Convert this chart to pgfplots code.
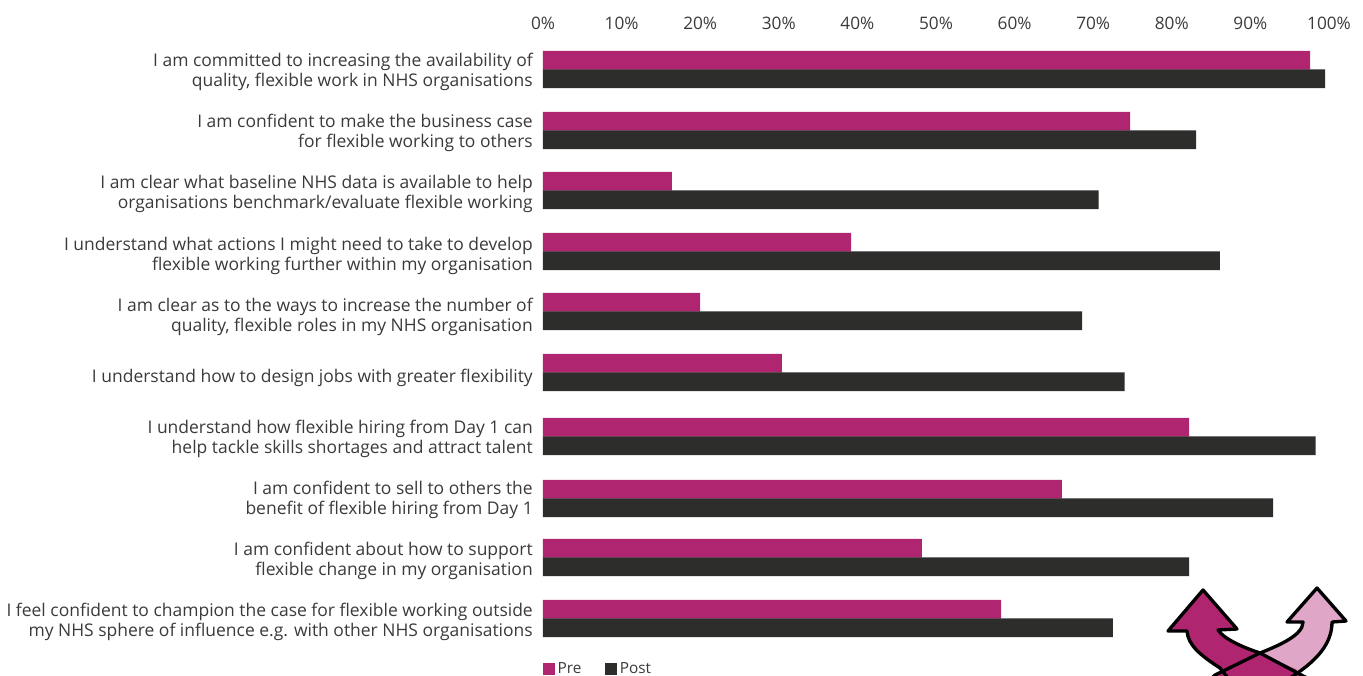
\documentclass[border=0pt]{standalone}
\usepackage{pgfplots}
\pgfplotsset{compat=1.18}
\usepackage{fontspec}
\setmainfont{Open Sans}
\definecolor{preC}{HTML}{AF2570}
\definecolor{postC}{HTML}{2D2D2C}
\definecolor{lightC}{HTML}{E0A6C8}
\definecolor{txtC}{HTML}{3A3A3A}
\begin{document}
\begin{tikzpicture}
\path[use as bounding box] (0pt,0pt) rectangle (1022.25pt,-506.25pt);
\begin{axis}[
  at={(407.25pt,-483.75pt)}, anchor=south west,
  scale only axis, width=589.5pt, height=450pt,
  xmin=0, xmax=100, ymin=45, ymax=645, y dir=reverse,
  axis line style={draw=none}, major tick length=0pt,
  xbar, bar width=18.9,
  xtick={0,10,...,100},
  xticklabels={0\%,10\%,20\%,30\%,40\%,50\%,60\%,70\%,80\%,90\%,100\%},
  xticklabel pos=upper,
  xticklabel style={font=\fontsize{12.9pt}{15pt}\selectfont, text=txtC, inner sep=0pt, yshift=11pt},
  ytick={72,133,194,255.5,316.5,378,439,500,561,622},
  yticklabels={
    {I am committed to increasing the availability of\\quality, flexible work in NHS organisations},
    {I am confident to make the business case\\for flexible working to others},
    {I am clear what baseline NHS data is available to help\\organisations benchmark/evaluate flexible working},
    {I understand what actions I might need to take to develop\\flexible working further within my organisation},
    {I am clear as to the ways to increase the number of\\quality, flexible roles in my NHS organisation},
    {I understand how to design jobs with greater flexibility},
    {I understand how flexible hiring from Day 1 can\\help tackle skills shortages and attract talent},
    {I am confident to sell to others the\\benefit of flexible hiring from Day 1},
    {I am confident about how to support\\flexible change in my organisation},
    {I feel confident to champion the case for flexible working outside\\my NHS sphere of influence e.g. with other NHS organisations}},
  yticklabel style={font=\fontsize{13.1pt}{15pt}\selectfont, text=txtC, align=right, inner sep=0pt, xshift=-7.5pt},
  clip=false,
  legend style={at={(0,-0.0245)}, anchor=north west, draw=none, fill=none, inner sep=0pt, outer sep=0pt,
    legend columns=2, font=\fontsize{11.5pt}{13pt}\selectfont, text=txtC,
    /tikz/every even column/.style={column sep=15.75pt}},
  legend image code/.code={\fill[#1] (0pt,-4.5pt) rectangle (9pt,4.5pt);},
]
\addplot[fill=preC, draw=none, bar shift=-9.25] coordinates {
  (97.6,69.5) (74.7,130.5) (16.4,190.5) (39.2,251.5) (20,311.5)
  (30.4,372.5) (82.2,436.5) (66,498.5) (48.2,557.5) (58.3,618.5)};
\addlegendentry{Pre}
\addplot[fill=postC, draw=none, bar shift=9.25] coordinates {
  (99.5,69.5) (83.1,130.5) (70.7,190.5) (86.1,251.5) (68.6,311.5)
  (74,372.5) (98.3,436.5) (92.9,498.5) (82.2,557.5) (72.5,618.5)};
\addlegendentry{Post}
\end{axis}
% Crossed-arrows logo, cut off by the lower page edge
\begin{scope}[x=0.75pt,y=-0.75pt]
\clip (0,0) rectangle (1363,675);
\def\rightarrowpath{(1317,588) -- (1346,621) -- (1332,622)
  .. controls (1332,645) and (1315,662) .. (1290,678) -- (1212,678)
  -- (1215,675) -- (1260,653) .. controls (1280,645) and (1303,635) .. (1303,622) -- (1287,622) -- cycle}
\def\leftarrowpath{(1203,590) -- (1237,629) -- (1218,630)
  .. controls (1225,640) and (1245,648) .. (1260,653) -- (1307,678) -- (1228,678)
  -- (1220,668) .. controls (1200,655) and (1188,645) .. (1187,631) -- (1168,631) -- cycle}
\fill[lightC] \rightarrowpath;
\fill[preC] \leftarrowpath;
\fill[preC] (1260,653) -- (1215,675) -- (1212,678) -- (1290,678) -- (1297,670) -- cycle;
\draw[black, line width=2.5pt, line join=round] \rightarrowpath;
\draw[black, line width=2.5pt, line join=round] \leftarrowpath;
\end{scope}
\end{tikzpicture}
\end{document}
